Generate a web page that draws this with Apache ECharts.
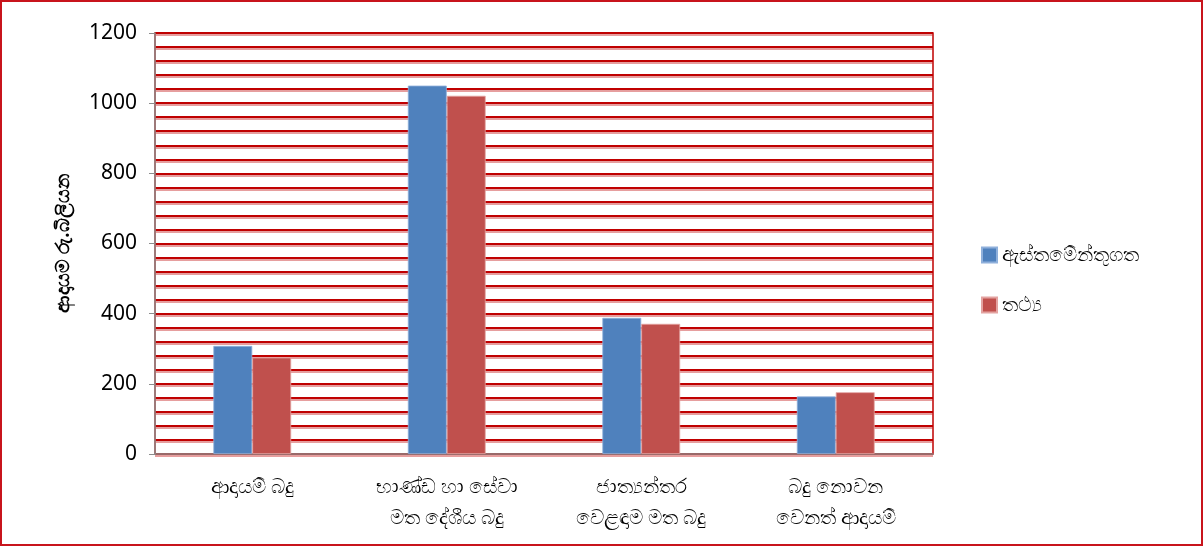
<!DOCTYPE html>
<html>
<head>
<meta charset="utf-8">
<script src="https://cdn.jsdelivr.net/npm/echarts@6/dist/echarts.min.js"></script>
<style>
  html, body { margin: 0; padding: 0; background: #fff; }
  #chart { width: 1203px; height: 546px; box-sizing: border-box; border: 2px solid #c8141c; }
</style>
</head>
<body>
<div id="chart"></div>
<script>
// Revenue by source (Rs. billion): estimate vs actual
const categories = [
  'ආදායම් බදු',
  'භාණ්ඩ හා සේවා\nමත දේශීය බදු',
  'ජාත්‍යන්තර\nවෙළඳාම මත බදු',
  'බදු නොවන\nවෙනත් ආදායම්'
];
const seriesNames = ['ඇස්තමේන්තුගත', 'තථ්‍ය'];
const estimated = [308, 1050, 388, 164];
const actual = [275, 1021, 371, 176];
const yAxisTitle = 'ආදායම රු.බිලියන';

const font = '"Noto Sans", Lato, sans-serif';
const chart = echarts.init(document.getElementById('chart'), null, { renderer: 'canvas' });

const gridLine = {
  color: '#c00000', width: 2,
  shadowColor: 'rgba(200,40,40,0.45)', shadowOffsetY: 2, shadowBlur: 0
};

chart.setOption({
  animation: false,
  textStyle: { fontFamily: font },
  grid: {
    left: 153, right: 268, top: 31, bottom: 90,
    show: true, borderColor: '#c00000', borderWidth: 1.5, backgroundColor: 'transparent'
  },
  legend: {
    orient: 'vertical',
    left: 974, top: 238,
    itemWidth: 15, itemHeight: 15, itemGap: 30,
    icon: 'rect',
    textStyle: { fontSize: 20, color: '#000', fontFamily: font },
    data: seriesNames
  },
  xAxis: {
    type: 'category',
    data: categories,
    axisLine: { lineStyle: { color: '#8c8c8c', width: 1.5 } },
    axisTick: { show: false },
    axisLabel: { color: '#000', fontSize: 20, lineHeight: 31, margin: 18, interval: 0 }
  },
  yAxis: {
    type: 'value',
    min: 0, max: 1200, interval: 200,
    name: yAxisTitle,
    nameLocation: 'middle',
    nameGap: 82,
    nameRotate: 90,
    nameTextStyle: { fontSize: 19, fontWeight: 'bold', color: '#000' },
    axisLine: { show: true, lineStyle: { color: '#8c8c8c', width: 1.5 } },
    axisTick: { show: true, inside: false, length: 6, lineStyle: { color: '#8c8c8c' } },
    axisLabel: { color: '#000', fontSize: 21, margin: 18, formatter: v => String(v) },
    splitLine: { show: true, lineStyle: gridLine },
    minorTick: { show: false, splitNumber: 5 },
    minorSplitLine: { show: true, lineStyle: gridLine }
  },
  series: [
    {
      name: seriesNames[0], type: 'bar', data: estimated,
      barGap: '0%', barCategoryGap: '60%',
      itemStyle: { color: '#4f81bd', borderColor: '#8fb0db', borderWidth: 0.8 }
    },
    {
      name: seriesNames[1], type: 'bar', data: actual,
      itemStyle: { color: '#c0504d', borderColor: '#e3a3a1', borderWidth: 0.8 }
    }
  ]
});
</script>
</body>
</html>
